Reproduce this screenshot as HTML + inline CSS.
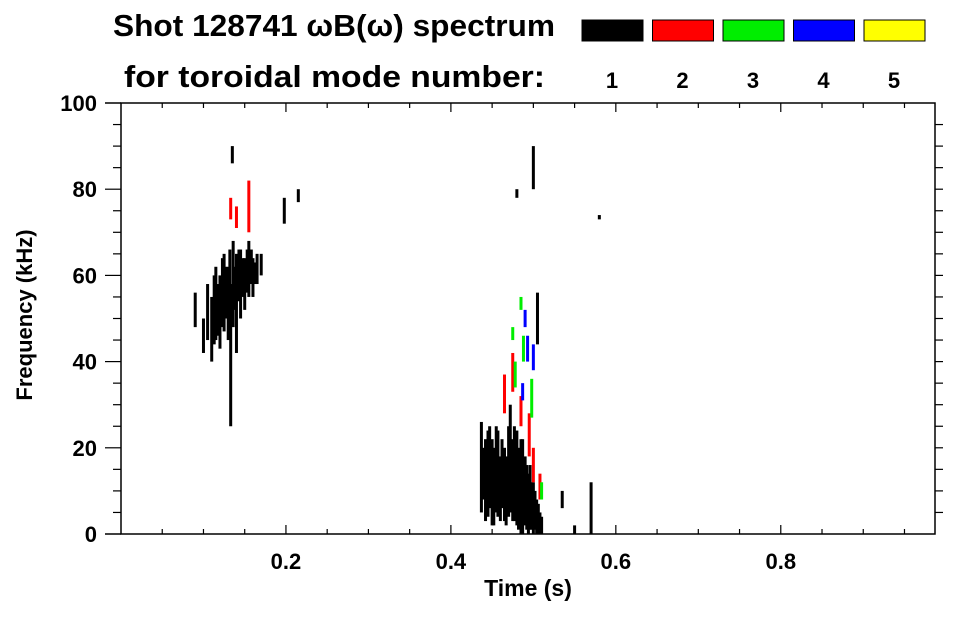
<!DOCTYPE html>
<html><head><meta charset="utf-8"><style>
body{margin:0;background:#fff;}
svg text{font-family:"Liberation Sans",Arial,sans-serif;font-weight:bold;fill:#000;}
</style></head><body>
<svg width="963" height="615" viewBox="0 0 963 615">
<text x="113" y="36" font-size="31" textLength="442" lengthAdjust="spacingAndGlyphs">Shot 128741 ωB(ω) spectrum</text>
<text x="124" y="87" font-size="31" textLength="421" lengthAdjust="spacingAndGlyphs">for toroidal mode number:</text>
<g id="legend"></g>
<g id="marks"></g>
<g id="axes"></g>
<text x="528" y="596" font-size="23" text-anchor="middle">Time (s)</text>
<text transform="translate(32,315) rotate(-90)" font-size="22" text-anchor="middle">Frequency (kHz)</text>
</svg>
<script>
const modes=[1,2,3,4,5];
const modeColors=["#000000","#ff0000","#00ee00","#0000ff","#ffff00"];
const xTicks=[0.2,0.4,0.6,0.8];
const yTicks=[0,20,40,60,80,100];
// streaks: time, fLow, fHigh, mode
const streakT=[0.090,0.100,0.105,0.110,0.113,0.115,0.118,0.120,0.123,0.125,0.127,0.130,0.132,0.133,0.136,0.138,0.140,0.143,0.145,0.148,0.150,0.153,0.155,0.158,0.160,0.163,0.165,0.170,0.135,0.198,0.215,0.133,0.140,0.155,
0.437,0.440,0.442,0.445,0.447,0.450,0.452,0.455,0.457,0.460,0.462,0.465,0.467,0.470,0.472,0.475,0.477,0.480,0.482,0.485,0.487,0.490,0.492,0.494,0.496,0.498,0.500,0.502,0.504,0.506,0.508,0.510,0.500,0.505,0.480,0.570,0.550,0.580,0.535,
0.465,0.475,0.485,0.495,0.500,0.508,0.478,0.488,0.498,0.475,0.485,0.510,0.490,0.493,0.500,0.487];
const streakLo=[48,42,45,40,44,45,46,43,48,47,50,45,50,25,48,52,42,54,50,55,52,56,55,58,55,58,58,60,86,72,77,73,71,70,
5,8,3,4,6,2,2,5,4,3,6,3,2,4,5,3,3,2,1,0,0,2,1,0,1,1,0,1,0,0,0,0,80,44,78,0,0,73,6,
28,33,25,18,12,8,34,40,27,45,52,8,48,40,38,31];
const streakHi=[56,50,58,55,60,62,58,60,64,65,62,62,66,58,68,62,65,66,66,64,64,66,68,66,64,63,65,65,90,78,80,78,76,82,
26,20,22,24,25,22,20,25,24,18,22,20,18,25,30,22,25,24,20,22,22,18,16,14,16,12,12,10,8,7,5,4,90,56,80,12,2,74,10,
37,42,32,28,20,14,40,46,36,48,55,12,52,46,44,35];
const streakMode=[1,1,1,1,1,1,1,1,1,1,1,1,1,1,1,1,1,1,1,1,1,1,1,1,1,1,1,1,1,1,1,2,2,2,
1,1,1,1,1,1,1,1,1,1,1,1,1,1,1,1,1,1,1,1,1,1,1,1,1,1,1,1,1,1,1,1,1,1,1,1,1,1,1,
2,2,2,2,2,2,3,3,3,3,3,3,4,4,4,4];
const X0=121,X1=935,Y0=534,Y1=103,TMAX=0.987;
const xs=t=>X0+(t/TMAX)*(X1-X0);
const ys=f=>Y0-(f/100)*(Y0-Y1);
const NS="http://www.w3.org/2000/svg";
function mk(tag,attrs,parent){const e=document.createElementNS(NS,tag);for(const k in attrs)e.setAttribute(k,attrs[k]);parent.appendChild(e);return e;}
const leg=document.getElementById('legend');
modes.forEach((m,i)=>{
 const r=mk('rect',{x:582+i*70.5,y:20,width:61,height:21,fill:modeColors[i],stroke:'#000','stroke-width':1},leg);
 
 
 const t=mk('text',{x:612+i*70.5,y:88,'font-size':22,'text-anchor':'middle'},leg);
 t.textContent=m;
 
 
});
const mg=document.getElementById('marks');
streakT.forEach((t,i)=>{
 const y1=ys(streakHi[i]),y0=ys(streakLo[i]);
 const r=mk('rect',{x:xs(t)-1.5,y:y1,width:3,height:Math.max(2,y0-y1),fill:modeColors[streakMode[i]-1]},mg);
 
 
});
const ax=document.getElementById('axes');
mk('rect',{x:X0,y:Y1,width:X1-X0,height:Y0-Y1,fill:'none',stroke:'#000','stroke-width':1.5},ax);
for(let t=0.05;t<TMAX;t+=0.05){
 const major=Math.abs(t*10-Math.round(t*10))<1e-6&&Math.round(t*10)%2===0;
 const L=major?9:5,x=xs(t);
 mk('line',{x1:x,x2:x,y1:Y0,y2:Y0-L,stroke:'#000','stroke-width':1.2},ax);
 mk('line',{x1:x,x2:x,y1:Y1,y2:Y1+L,stroke:'#000','stroke-width':1.2},ax);
}
for(let f=5;f<100;f+=5){
 const L=f%20===0?16:8,y=ys(f);
 mk('line',{x1:X0-L,x2:X0,y1:y,y2:y,stroke:'#000','stroke-width':1.2},ax);
 mk('line',{x1:X1,x2:X1+8,y1:y,y2:y,stroke:'#000','stroke-width':1.2},ax);
}
mk('line',{x1:X0-16,x2:X0,y1:Y0,y2:Y0,stroke:'#000','stroke-width':1.5},ax);
mk('line',{x1:X0-16,x2:X0,y1:Y1,y2:Y1,stroke:'#000','stroke-width':1.5},ax);
xTicks.forEach(t=>{
 const e=mk('text',{x:xs(t),y:569,'font-size':22,'text-anchor':'middle'},ax);
 e.textContent=t.toFixed(1);
 
 
});
yTicks.forEach(f=>{
 const e=mk('text',{x:97,y:ys(f)+8,'font-size':22,'text-anchor':'end'},ax);
 e.textContent=f;
 
 
});
</script>
</body></html>
